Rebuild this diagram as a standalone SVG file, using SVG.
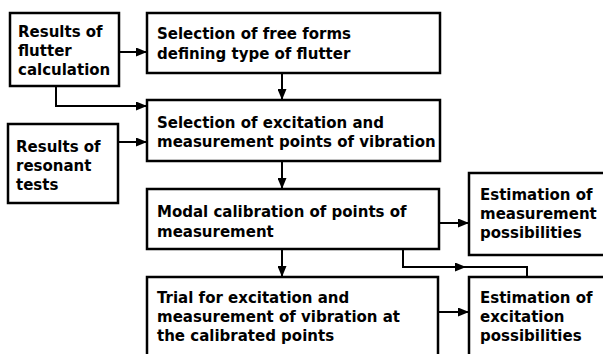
<svg xmlns="http://www.w3.org/2000/svg" width="603" height="354" viewBox="0 0 603 354">
<defs>
<style>
.box{fill:#fff;stroke:#000;stroke-width:2.5}
.t{font-family:"DejaVu Sans","Liberation Sans",sans-serif;font-weight:bold;font-size:15px;fill:#000}
.c{fill:none;stroke:#000;stroke-width:2}
</style>
<marker id="ah" markerWidth="11" markerHeight="9" refX="11" refY="4.5" orient="auto" markerUnits="userSpaceOnUse">
<path d="M0,0 L11,4.5 L0,9 Z" fill="#000"/>
</marker>
</defs>
<rect width="603" height="354" fill="#fff"/>
<g id="connectors">
<path class="c" d="M119,52 H147" marker-end="url(#ah)"/>
<path class="c" d="M56,86 V106 H147" marker-end="url(#ah)"/>
<path class="c" d="M118,142 H147" marker-end="url(#ah)"/>
<path class="c" d="M282,73 V100" marker-end="url(#ah)"/>
<path class="c" d="M282,161 V189" marker-end="url(#ah)"/>
<path class="c" d="M282,249 V277" marker-end="url(#ah)"/>
<path class="c" d="M439,223 H469" marker-end="url(#ah)"/>
<path class="c" d="M438,312 H469" marker-end="url(#ah)"/>
<path class="c" d="M403,249 V267 H527 V277"/>
<path class="c" d="M403,267 H466" marker-end="url(#ah)"/>
</g>
<g id="n1">
<rect class="box" x="10" y="13" width="109" height="73"/>
<text class="t" x="18" y="37">Results of</text>
<text class="t" x="18" y="56">flutter</text>
<text class="t" x="18" y="75">calculation</text>
</g>
<g id="n2">
<rect class="box" x="147" y="13" width="293" height="60"/>
<text class="t" x="157" y="39">Selection of free forms</text>
<text class="t" x="157" y="59">defining type of flutter</text>
</g>
<g id="n3">
<rect class="box" x="147" y="100" width="293" height="61"/>
<text class="t" x="157" y="128">Selection of excitation and</text>
<text class="t" x="157" y="147">measurement points of vibration</text>
</g>
<g id="n4">
<rect class="box" x="8" y="124" width="110" height="79"/>
<text class="t" x="16" y="152">Results of</text>
<text class="t" x="16" y="171">resonant</text>
<text class="t" x="16" y="190">tests</text>
</g>
<g id="n5">
<rect class="box" x="147" y="189" width="292" height="60"/>
<text class="t" x="157" y="217">Modal calibration of points of</text>
<text class="t" x="157" y="237">measurement</text>
</g>
<g id="n6">
<rect class="box" x="147" y="277" width="291" height="90"/>
<text class="t" x="157" y="303">Trial for excitation and</text>
<text class="t" x="157" y="322">measurement of vibration at</text>
<text class="t" x="157" y="341">the calibrated points</text>
</g>
<g id="n7">
<rect class="box" x="469" y="173" width="150" height="82"/>
<text class="t" x="480" y="200">Estimation of</text>
<text class="t" x="480" y="219">measurement</text>
<text class="t" x="480" y="238">possibilities</text>
</g>
<g id="n8">
<rect class="box" x="469" y="277" width="150" height="90"/>
<text class="t" x="480" y="303">Estimation of</text>
<text class="t" x="480" y="322">excitation</text>
<text class="t" x="480" y="341">possibilities</text>
</g>
</svg>
